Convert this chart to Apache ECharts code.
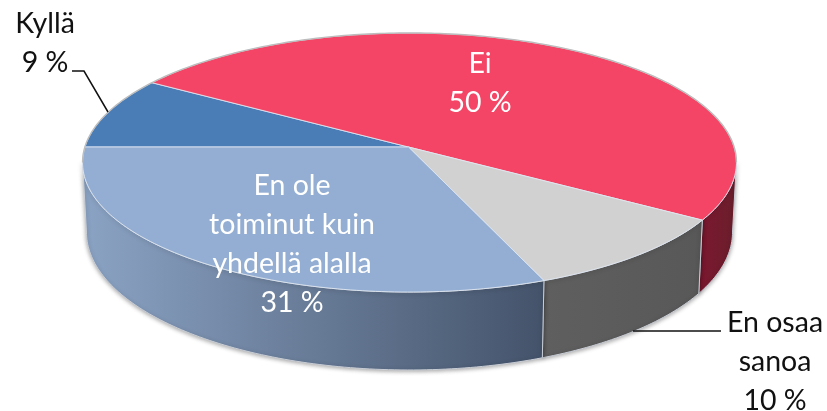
<!DOCTYPE html>
<html>
<head>
<meta charset="utf-8">
<style>html,body{margin:0;padding:0;background:#fff}#c{width:827px;height:411px}</style>
<script src="https://cdn.jsdelivr.net/npm/echarts@6/dist/echarts.min.js"></script>
</head>
<body>
<div id="c"></div>
<script>
var categories = ['Kyllä', 'Ei', 'En osaa\nsanoa', 'En ole\ntoiminut kuin\nyhdellä alalla'];
var values = [9, 50, 10, 31];

// layout and style, kept apart from the data
var topColors = ['#4A7CB6', '#F44566', '#D1D1D1', '#93AED2'];
var sideColors = [
  ['#2f5480', '#2f5480'],
  ['#7c1730', '#6a1f2c'],
  ['#5f5f5f', '#585858'],
  ['#8ba3c4', '#44536a']
];
var labelColors = ['#111', '#fff', '#111', '#fff'];
var labelCentres = [[45, 43], [480, 83], [775, 362], [292, 244]];
var PIE = {cx: 409.5, cy: 147, R: 324.6, r: 127.7, k: 0.1196, depth: 68.6, shrink: 0.988, start: 180};
var FONT = {family: 'Lato, "Open Sans", sans-serif', size: 28.5, lineHeight: 39};

var RAD = Math.PI / 180;
function topPoint(a) {
  var d = 1 - PIE.k * Math.sin(a * RAD);
  return [PIE.cx + PIE.R * Math.cos(a * RAD) / d, PIE.cy + PIE.r * Math.sin(a * RAD) / d];
}
function bottomPoint(a) {
  var d = 1 - PIE.k * Math.sin(a * RAD);
  return [PIE.cx + PIE.shrink * PIE.R * Math.cos(a * RAD) / d,
          PIE.cy + PIE.r * Math.sin(a * RAD) / d + PIE.depth / d];
}
var total = values.reduce(function (s, v) { return s + v; }, 0);
function range(i) {
  var before = 0;
  for (var j = 0; j < i; j++) before += values[j];
  return [PIE.start + before / total * 360, PIE.start + (before + values[i]) / total * 360];
}
function arc(fn, a0, a1) {
  var pts = [], n = Math.max(2, Math.ceil(Math.abs(a1 - a0)));
  for (var i = 0; i <= n; i++) pts.push(fn(a0 + (a1 - a0) * i / n));
  return pts;
}
var edge = Math.asin(PIE.k) / RAD; // where the rim turns away from the viewer
var frontFrom = 360 + edge, frontTo = 360 + 180 - edge;

function renderSide(params) {
  var i = params.dataIndex, rg = range(i);
  var a0 = Math.max(rg[0], frontFrom), a1 = Math.min(rg[1], frontTo);
  // slices are measured from 180 upward, so also try the wrapped turn
  if (a1 <= a0) {
    a0 = Math.max(rg[0], frontFrom - 360);
    a1 = Math.min(rg[1], frontTo - 360);
  }
  if (a1 <= a0) return {type: 'group', children: []};
  var pts = arc(topPoint, a0, a1).concat(arc(bottomPoint, a1, a0));
  return {
    type: 'polygon',
    shape: {points: pts},
    style: {
      fill: {type: 'linear', x: 0, y: 0, x2: 1, y2: 0, colorStops: [
        {offset: 0, color: sideColors[i][0]}, {offset: 1, color: sideColors[i][1]}]},
      stroke: '#c9ced6', lineWidth: 1,
      shadowBlur: 4, shadowColor: 'rgba(0,0,0,0.35)', shadowOffsetY: 1
    }
  };
}
function renderTop(params) {
  var i = params.dataIndex, rg = range(i);
  var pts = [[PIE.cx - 1, PIE.cy]].concat(arc(topPoint, rg[0], rg[1]));
  return {
    type: 'polygon',
    shape: {points: pts},
    style: {fill: topColors[i], stroke: 'rgba(225,232,242,0.85)', lineWidth: 1}
  };
}
function renderRim() {
  return {
    type: 'polyline',
    shape: {points: arc(topPoint, frontTo - 360, frontFrom)},
    style: {fill: 'none', stroke: '#bdbdbd', lineWidth: 1.4}
  };
}
function renderLabel(params) {
  var i = params.dataIndex;
  return {
    type: 'text',
    x: labelCentres[i][0],
    y: labelCentres[i][1],
    style: {
      text: categories[i] + '\n' + values[i] + ' %',
      fill: labelColors[i],
      font: FONT.size + 'px ' + FONT.family,
      lineHeight: FONT.lineHeight,
      align: 'center',
      verticalAlign: 'middle'
    }
  };
}
var data = values.map(function (v, i) { return {name: categories[i], value: v}; });
function custom(render, z, d) {
  return {type: 'custom', coordinateSystem: 'none', renderItem: render, data: d || data,
          z: z, silent: true, animation: false};
}
var chart = echarts.init(document.getElementById('c'), null, {renderer: 'canvas'});
chart.setOption({
  animation: false,
  backgroundColor: '#fff',
  series: [
    custom(renderSide, 1),
    custom(renderTop, 2),
    custom(renderRim, 3, [{name: 'rim', value: 1}]),
    custom(renderLabel, 5)
  ],
  graphic: [
    {type: 'polyline', z: 4, shape: {points: [[72, 71], [84, 71], [108, 112]]},
     style: {fill: 'none', stroke: '#111', lineWidth: 1.5}},
    {type: 'polyline', z: 4, shape: {points: [[633, 331], [721, 331]]},
     style: {fill: 'none', stroke: '#111', lineWidth: 1.5}}
  ]
});
</script>
</body>
</html>
